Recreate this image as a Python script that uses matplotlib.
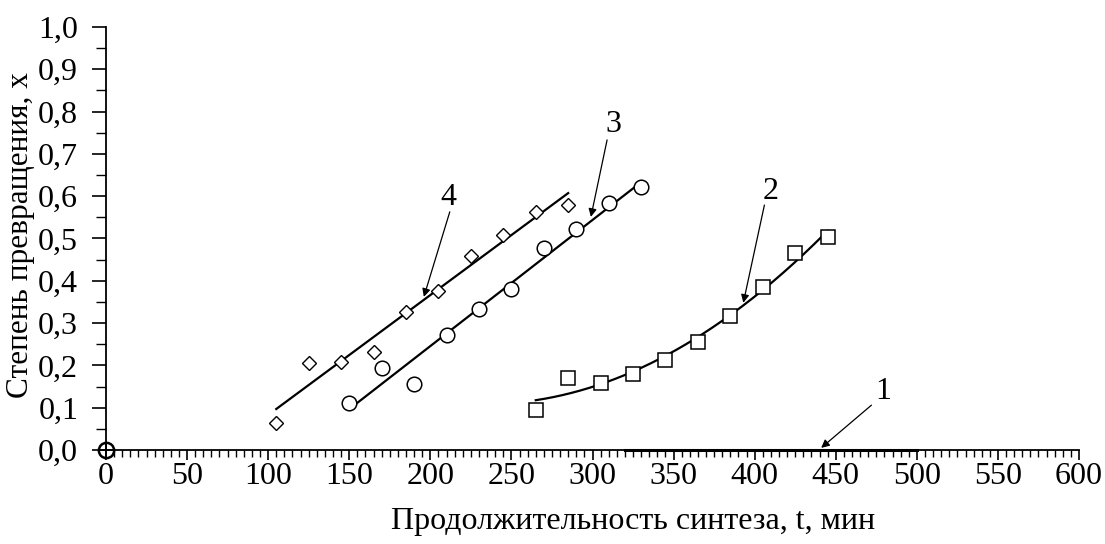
import numpy as np
import matplotlib.pyplot as plt
from matplotlib.ticker import MultipleLocator, FuncFormatter

# series 2 (squares)
t2 = [265, 285, 305, 325, 345, 365, 385, 405, 425, 445]
x2 = [0.095, 0.170, 0.158, 0.179, 0.213, 0.255, 0.317, 0.385, 0.466, 0.504]
# series 3 (circles)
t3 = [150, 170, 190, 210, 230, 250, 270, 290, 310, 330]
x3 = [0.110, 0.193, 0.155, 0.272, 0.333, 0.381, 0.478, 0.522, 0.583, 0.622]
# series 4 (diamonds)
t4 = [105, 125, 145, 165, 185, 205, 225, 245, 265, 285]
x4 = [0.065, 0.205, 0.208, 0.232, 0.326, 0.377, 0.459, 0.508, 0.562, 0.579]
# series 1 lies on the axis
t1 = [320, 500]
x1 = [0.0, 0.0]

# curve labels: text centre, arrow tail, arrow tip
labels = ["1", "2", "3", "4"]
label_xy = [(479, 0.139), (410, 0.610), (313, 0.770), (211, 0.598)]
tail_xy = [(472, 0.106), (406, 0.579), (309, 0.733), (212, 0.563)]
tip_xy = [(441, 0.005), (393, 0.348), (299, 0.551), (196, 0.362)]

plt.rcParams['font.family'] = ['Liberation Serif', 'DejaVu Serif']

fig = plt.figure(figsize=(11.05, 5.44), dpi=100)
ax = fig.add_axes([0.0959, 0.1728, 0.8806, 0.7776])

def trend(t, x, deg):
    c = np.polyfit(t, x, deg)
    tt = np.linspace(min(t), max(t), 200)
    return tt, np.polyval(c, tt)

for t, x, deg in [(t2, x2, 2), (t3, x3, 1), (t4, x4, 1)]:
    tt, xx = trend(t, x, deg)
    ax.plot(tt, xx, color='black', lw=1.6, zorder=2)

ax.plot(t1, x1, color='black', lw=2.2, zorder=3, clip_on=False)

ax.plot(t2, x2, ls='none', marker='s', ms=10.5, mfc='white', mec='black', mew=1.1, zorder=4)
ax.plot(t3, x3, ls='none', marker='o', ms=10.5, mfc='white', mec='black', mew=1.1, zorder=4)
ax.plot(t4, x4, ls='none', marker='D', ms=7.5, mfc='white', mec='black', mew=1.0, zorder=4)

# origin point of series 1
ax.plot([0], [0], ls='none', marker='o', ms=11, mfc='none', mec='black', mew=1.8, clip_on=False, zorder=5)
ax.plot([0], [0], ls='none', marker='+', ms=11, mec='black', mew=1.3, clip_on=False, zorder=5)

for lab, (lx, ly), (sx, sy), (px, py) in zip(labels, label_xy, tail_xy, tip_xy):
    ax.annotate("", xy=(px, py), xytext=(sx, sy),
                arrowprops=dict(arrowstyle='-|>', color='black', lw=0.9, mutation_scale=12,
                                shrinkA=0, shrinkB=0))
    ax.text(lx, ly, lab, fontsize=23, ha='center', va='center')

ax.set_xlim(0, 600)
ax.set_ylim(0, 1.0)
ax.spines['top'].set_visible(False)
ax.spines['right'].set_visible(False)
ax.spines['left'].set_linewidth(1.3)
ax.spines['bottom'].set_linewidth(1.3)

ax.xaxis.set_major_locator(MultipleLocator(50))
ax.xaxis.set_minor_locator(MultipleLocator(5))
ax.yaxis.set_major_locator(MultipleLocator(0.1))
ax.yaxis.set_minor_locator(MultipleLocator(0.05))
ax.yaxis.set_major_formatter(FuncFormatter(lambda v, p: f"{v:.1f}".replace('.', ',')))

ax.tick_params(axis='both', which='major', direction='out', width=1.2, labelsize=23)
ax.tick_params(axis='x', which='major', length=7, pad=2)
ax.tick_params(axis='x', which='minor', length=5, width=1.0)
ax.tick_params(axis='y', which='major', length=10, pad=10)
ax.tick_params(axis='y', which='minor', length=7, width=1.0)

ax.set_xlabel("Продолжительность синтеза, t, мин", fontsize=23)
ax.xaxis.set_label_coords(0.5416, -0.135)
ax.set_ylabel("Степень превращения, x", fontsize=22.5)
ax.yaxis.set_label_coords(-0.073, 0.508)

fig.savefig("out.png", dpi=100)
